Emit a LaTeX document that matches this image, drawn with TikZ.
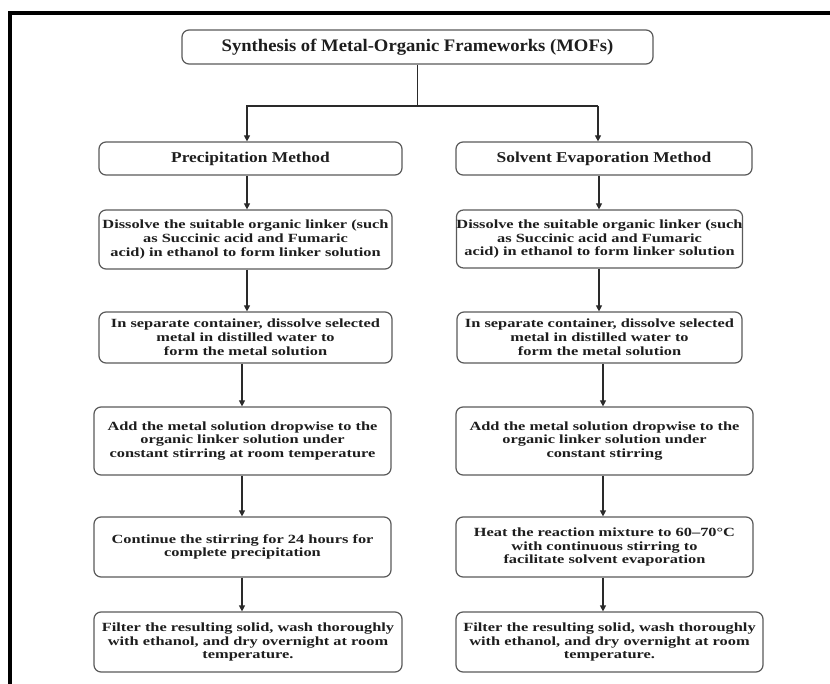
\documentclass[tikz,border=0pt]{standalone}
\usepackage{fontspec}
\setmainfont{Liberation Serif}
\newfontfamily\stepfont{Liberation Serif}[FakeStretch=1.31]
\newfontfamily\headfont{Liberation Serif}[FakeStretch=1.16]
\newfontfamily\titlefont{Liberation Serif}[FakeStretch=1.06]
\usetikzlibrary{arrows.meta}
\definecolor{boxgray}{HTML}{5A5A5A}
\definecolor{inkc}{HTML}{1E1E1E}
\definecolor{arrowc}{HTML}{2A2A2A}
\tikzset{
  boxbase/.style={draw=boxgray, line width=1.2pt, rounded corners=7pt, inner sep=0pt, align=center, text=inkc},
  stepbox/.style={boxbase, font=\stepfont\bfseries\fontsize{12.5}{13.8}\selectfont},
  headbox/.style={boxbase, font=\headfont\bfseries\fontsize{15}{17}\selectfont},
  titlebox/.style={boxbase, font=\titlefont\bfseries\fontsize{17.6}{20}\selectfont},
  flow/.style={draw=arrowc, line width=1.2pt, -{Triangle[length=6pt,width=6pt]}},
  plain/.style={draw=arrowc, line width=1.2pt}
}
\begin{document}
\begin{tikzpicture}[x=1pt,y=-1pt]
\useasboundingbox (0,0) rectangle (830,684);
\clip (0,0) rectangle (830,684);
\fill[white] (0,0) rectangle (830,684);
\draw[line width=4pt, black] (10,700) -- (10,13) -- (850,13);

\node[titlebox, minimum width=471pt, minimum height=34pt] (title) at (417.5,47) {Synthesis of Metal-Organic Frameworks (MOFs)};

\node[headbox, minimum width=303pt, minimum height=33pt] (pm) at (250.5,158.5) {Precipitation Method};
\node[headbox, minimum width=296pt, minimum height=33pt] (se) at (604,158.5) {Solvent Evaporation Method};

\node[stepbox, minimum width=293pt, minimum height=59pt] (l1) at (245.5,239.5) {Dissolve the suitable organic linker (such\\as Succinic acid and Fumaric\\acid) in ethanol to form linker solution};
\node[stepbox, minimum width=293pt, minimum height=51pt] (l2) at (245.5,337.5) {In separate container, dissolve selected\\metal in distilled water to\\form the metal solution};
\node[stepbox, minimum width=297pt, minimum height=68pt] (l3) at (242.5,441) {Add the metal solution dropwise to the\\organic linker solution under\\constant stirring at room temperature};
\node[stepbox, minimum width=297pt, minimum height=60pt] (l4) at (242.5,547) {Continue the stirring for 24 hours for\\complete precipitation};
\node[stepbox, minimum width=308pt, minimum height=60pt] (l5) at (248,642) {Filter the resulting solid, wash thoroughly\\with ethanol, and dry overnight at room\\temperature.};

\node[stepbox, minimum width=285pt, minimum height=58pt] (r1) at (599.5,239) {Dissolve the suitable organic linker (such\\as Succinic acid and Fumaric\\acid) in ethanol to form linker solution};
\node[stepbox, minimum width=285pt, minimum height=51pt] (r2) at (599.5,337.5) {In separate container, dissolve selected\\metal in distilled water to\\form the metal solution};
\node[stepbox, minimum width=297pt, minimum height=68pt] (r3) at (604.5,441) {Add the metal solution dropwise to the\\organic linker solution under\\constant stirring};
\node[stepbox, minimum width=297pt, minimum height=60pt] (r4) at (604.5,547) {Heat the reaction mixture to 60–70°C\\with continuous stirring to\\facilitate solvent evaporation};
\node[stepbox, minimum width=307pt, minimum height=60pt] (r5) at (609.5,642) {Filter the resulting solid, wash thoroughly\\with ethanol, and dry overnight at room\\temperature.};

\coordinate (jL) at (247,106);
\coordinate (jR) at (598,106);
\draw[plain] (title.south) -- (title.south |- jL);
\draw[flow] (jR) -- (jL -| title.south) -- (jL) -- (pm.north -| jL);
\draw[flow] (jR) -- (se.north -| jR);

\coordinate (a1) at (247,0);
\coordinate (a2) at (242,0);
\coordinate (b1) at (599,0);
\coordinate (b2) at (603,0);
\draw[flow] (pm.south -| a1) -- (l1.north -| a1);
\draw[flow] (l1.south -| a1) -- (l2.north -| a1);
\draw[flow] (l2.south -| a2) -- (l3.north -| a2);
\draw[flow] (l3.south -| a2) -- (l4.north -| a2);
\draw[flow] (l4.south -| a2) -- (l5.north -| a2);
\draw[flow] (se.south -| b1) -- (r1.north -| b1);
\draw[flow] (r1.south -| b1) -- (r2.north -| b1);
\draw[flow] (r2.south -| b2) -- (r3.north -| b2);
\draw[flow] (r3.south -| b2) -- (r4.north -| b2);
\draw[flow] (r4.south -| b2) -- (r5.north -| b2);
\end{tikzpicture}
\end{document}
